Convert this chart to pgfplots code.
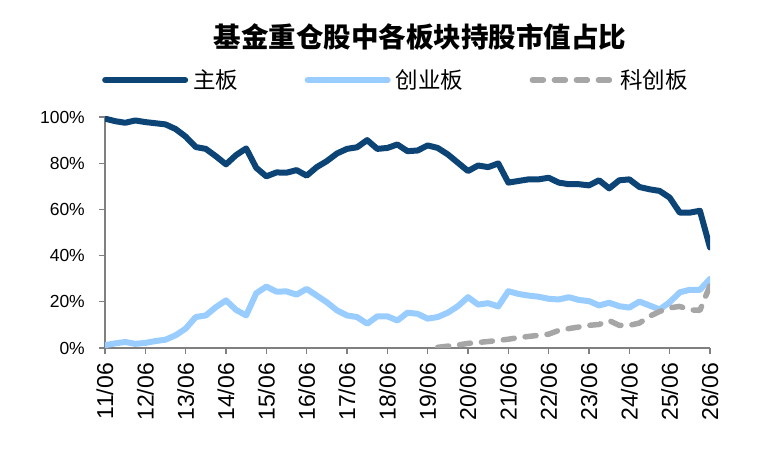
\documentclass[border=0pt]{standalone}
\usepackage{fontspec}
\setmainfont{Liberation Sans}
\newfontfamily\cjk{Noto Sans CJK SC}
\usepackage{pgfplots}
\usepackage{pgfplotstable}
\pgfplotsset{compat=1.18}

\definecolor{mainc}{HTML}{0C4476}
\definecolor{gemc}{HTML}{99CCFF}
\definecolor{starc}{HTML}{A6A6A6}
\definecolor{axisc}{HTML}{808080}

% Quarterly share of market value held by funds (%), x = years since 2011/06
\pgfplotstableread{
x     main  gem
0.00  99.3  1.2
0.25  98.2  2.0
0.50  97.5  2.6
0.75  98.5  1.8
1.00  97.8  2.2
1.25  97.3  3.0
1.50  96.8  3.6
1.75  94.8  5.5
2.00  91.5  8.4
2.25  87.0  13.4
2.50  86.2  14.1
2.75  83.0  17.7
3.00  79.5  20.6
3.25  83.5  16.5
3.50  86.4  14.1
3.75  78.0  23.7
4.00  74.3  26.6
4.25  76.0  24.4
4.50  75.9  24.5
4.75  77.0  23.1
5.00  74.6  25.6
5.25  78.3  22.7
5.50  80.9  19.8
5.75  84.2  16.3
6.00  86.2  14.1
6.25  86.9  13.4
6.50  90.0  10.5
6.75  86.2  13.7
7.00  86.6  13.7
7.25  88.1  11.9
7.50  85.2  15.3
7.75  85.5  14.8
8.00  87.7  12.7
8.25  86.6  13.4
8.50  83.8  15.3
8.75  80.2  18.1
9.00  76.6  22.0
9.25  79.0  18.8
9.50  78.3  19.4
9.75  79.9  18.0
10.00 71.6  24.6
10.25 72.3  23.4
10.50 73.0  22.7
10.75 73.0  22.2
11.00 73.7  21.3
11.25 71.6  21.0
11.50 70.9  22.0
11.75 70.9  20.8
12.00 70.4  20.3
12.25 72.6  18.4
12.50 69.1  19.6
12.75 72.6  18.1
13.00 73.0  17.5
13.25 69.7  20.1
13.50 68.7  18.4
13.75 68.0  16.7
14.00 65.1  19.8
14.25 58.6  24.1
14.50 58.6  25.2
14.75 59.4  25.2
15.00 43.5  29.9
}\boardtable

\pgfplotstableread{
x     star
8.25  0.3
8.50  0.8
8.75  1.3
9.00  2.0
9.25  2.4
9.50  2.8
9.75  3.3
10.00 3.8
10.25 4.5
10.50 5.0
10.75 5.5
11.00 6.0
11.25 7.6
11.50 8.4
11.75 9.1
12.00 9.8
12.25 10.2
12.50 11.9
12.75 9.8
13.00 9.8
13.25 10.8
13.50 13.7
13.75 15.8
14.00 17.4
14.25 18.0
14.50 16.5
14.75 16.3
15.00 27.0
}\startable

\begin{document}
\begin{tikzpicture}
\useasboundingbox (0,0) rectangle (772bp,453bp);
\begin{axis}[
  at={(105bp,105bp)}, anchor=south west,
  scale only axis, width=605bp, height=231bp,
  xmin=0, xmax=15, ymin=0, ymax=100,
  axis lines*=left,
  axis line style={axisc, line width=1.2bp},
  tick style={axisc, line width=1.2bp},
  tick align=outside, major tick length=6bp,
  xtick={0,...,15},
  xticklabels={11/06,12/06,13/06,14/06,15/06,16/06,17/06,18/06,19/06,20/06,21/06,22/06,23/06,24/06,25/06,26/06},
  x tick label style={rotate=90, anchor=east, font=\fontsize{23bp}{23bp}\selectfont, inner sep=0pt},
  xticklabel shift=9bp,
  ytick={0,20,...,100},
  yticklabel={\pgfmathprintnumber{\tick}\%},
  y tick label style={font=\fontsize{17.5bp}{17.5bp}\selectfont, inner sep=0pt},
  yticklabel shift=14bp,
  /pgf/number format/assume math mode=true,
  title={\cjk\bfseries 基金重仓股中各板块持股市值占比},
  title style={at={(0.5207,1.3203)}, anchor=center, font=\fontsize{27.5bp}{27.5bp}\selectfont, inner sep=0pt},
  legend columns=3,
  legend style={at={(-0.005,1.16)}, anchor=west, draw=none, fill=none, inner sep=0pt,
    font=\cjk\fontsize{22.5bp}{22.5bp}\selectfont,
    nodes={inner sep=0pt},
    /tikz/every odd column/.append style={column sep=5bp},
    /tikz/every even column/.append style={column sep=66.5bp}},
  legend image code/.code={\draw[#1] (0bp,0bp) -- (80bp,0bp);},
  every axis plot/.append style={line join=round},
]
\addplot[mainc, line width=6bp, line cap=round] table[x=x, y=main] {\boardtable};
\addlegendentry{主板}
\addplot[gemc, line width=6bp, line cap=round] table[x=x, y=gem] {\boardtable};
\addlegendentry{创业板}
\addplot[starc, line width=5.5bp, line cap=round, dash pattern=on 11bp off 11bp] table[x=x, y=star] {\startable};
\addlegendentry{科创板}
\end{axis}
\end{tikzpicture}
\end{document}
